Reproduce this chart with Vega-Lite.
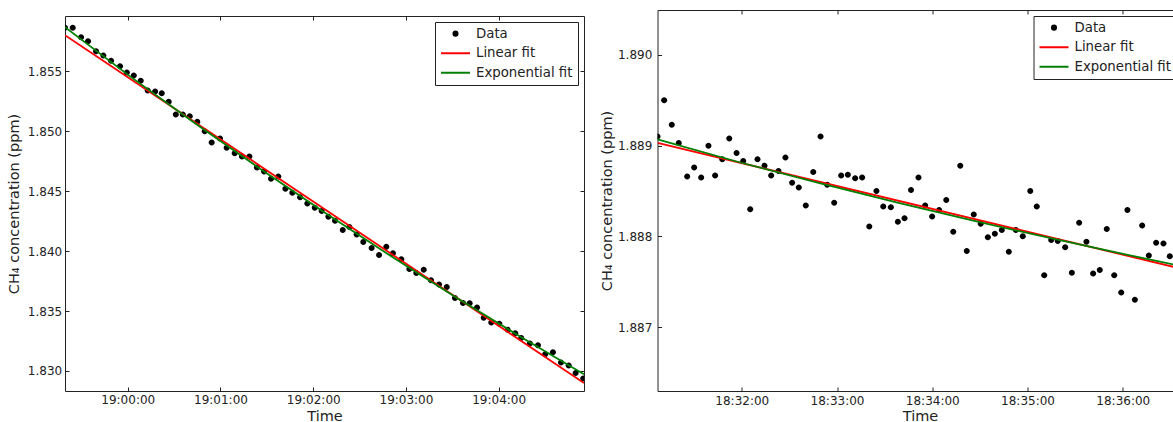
{
  "$schema": "https://vega.github.io/schema/vega-lite/v6.json",
  "padding": {"left": 5, "top": 9, "right": 0, "bottom": 0},
  "spacing": 13.5,
  "config": {
    "font": "DejaVu Sans",
    "view": {"stroke": "#222222", "strokeWidth": 1},
    "axis": {
      "domain": false, "grid": false, "tickColor": "#222222", "tickSize": -4, "tickWidth": 1,
      "labelFont": "DejaVu Sans", "labelFontSize": 12, "labelColor": "#222222",
      "titleFont": "DejaVu Sans", "titleFontSize": 14.5, "titleFontWeight": "normal", "titleColor": "#222222"
    },
    "legend": {
      "title": null, "orient": "top-right", "offset": 6, "strokeColor": "#222222", "fillColor": "white", "padding": 5, "cornerRadius": 0,
      "labelFont": "DejaVu Sans", "labelFontSize": 13.3, "labelColor": "#222222", "symbolType": "stroke", "symbolSize": 841, "symbolStrokeWidth": 2,
      "clipHeight": 13.3, "rowPadding": 4.6, "labelOffset": 5
    }
  },
  "datasets": {
    "left_data": [
      {"t": "2020-01-01T18:59:19.400", "v": 1.85865, "series": "Data"},
      {"t": "2020-01-01T18:59:24.400", "v": 1.85865, "series": "Data"},
      {"t": "2020-01-01T18:59:29.800", "v": 1.85786, "series": "Data"},
      {"t": "2020-01-01T18:59:34.300", "v": 1.85753, "series": "Data"},
      {"t": "2020-01-01T18:59:39.500", "v": 1.85669, "series": "Data"},
      {"t": "2020-01-01T18:59:44.200", "v": 1.85633, "series": "Data"},
      {"t": "2020-01-01T18:59:49.200", "v": 1.85589, "series": "Data"},
      {"t": "2020-01-01T18:59:55.000", "v": 1.85544, "series": "Data"},
      {"t": "2020-01-01T18:59:59.400", "v": 1.85492, "series": "Data"},
      {"t": "2020-01-01T19:00:03.900", "v": 1.85467, "series": "Data"},
      {"t": "2020-01-01T19:00:08.400", "v": 1.85422, "series": "Data"},
      {"t": "2020-01-01T19:00:12.900", "v": 1.85342, "series": "Data"},
      {"t": "2020-01-01T19:00:17.700", "v": 1.85333, "series": "Data"},
      {"t": "2020-01-01T19:00:22.000", "v": 1.85319, "series": "Data"},
      {"t": "2020-01-01T19:00:26.500", "v": 1.85247, "series": "Data"},
      {"t": "2020-01-01T19:00:31.100", "v": 1.85141, "series": "Data"},
      {"t": "2020-01-01T19:00:35.600", "v": 1.85141, "series": "Data"},
      {"t": "2020-01-01T19:00:40.100", "v": 1.85127, "series": "Data"},
      {"t": "2020-01-01T19:00:45.000", "v": 1.85080, "series": "Data"},
      {"t": "2020-01-01T19:00:49.800", "v": 1.85002, "series": "Data"},
      {"t": "2020-01-01T19:00:54.300", "v": 1.84908, "series": "Data"},
      {"t": "2020-01-01T19:00:59.700", "v": 1.84941, "series": "Data"},
      {"t": "2020-01-01T19:01:04.000", "v": 1.84864, "series": "Data"},
      {"t": "2020-01-01T19:01:09.200", "v": 1.84818, "series": "Data"},
      {"t": "2020-01-01T19:01:13.900", "v": 1.84791, "series": "Data"},
      {"t": "2020-01-01T19:01:18.700", "v": 1.84791, "series": "Data"},
      {"t": "2020-01-01T19:01:23.600", "v": 1.84699, "series": "Data"},
      {"t": "2020-01-01T19:01:28.200", "v": 1.84666, "series": "Data"},
      {"t": "2020-01-01T19:01:32.700", "v": 1.84605, "series": "Data"},
      {"t": "2020-01-01T19:01:37.400", "v": 1.84624, "series": "Data"},
      {"t": "2020-01-01T19:01:42.000", "v": 1.84522, "series": "Data"},
      {"t": "2020-01-01T19:01:46.500", "v": 1.84488, "series": "Data"},
      {"t": "2020-01-01T19:01:51.500", "v": 1.84451, "series": "Data"},
      {"t": "2020-01-01T19:01:56.200", "v": 1.84399, "series": "Data"},
      {"t": "2020-01-01T19:02:01.000", "v": 1.84363, "series": "Data"},
      {"t": "2020-01-01T19:02:05.500", "v": 1.84335, "series": "Data"},
      {"t": "2020-01-01T19:02:09.800", "v": 1.84288, "series": "Data"},
      {"t": "2020-01-01T19:02:14.100", "v": 1.84255, "series": "Data"},
      {"t": "2020-01-01T19:02:19.100", "v": 1.84176, "series": "Data"},
      {"t": "2020-01-01T19:02:23.400", "v": 1.84201, "series": "Data"},
      {"t": "2020-01-01T19:02:28.100", "v": 1.84140, "series": "Data"},
      {"t": "2020-01-01T19:02:32.400", "v": 1.84076, "series": "Data"},
      {"t": "2020-01-01T19:02:37.800", "v": 1.84026, "series": "Data"},
      {"t": "2020-01-01T19:02:42.600", "v": 1.83968, "series": "Data"},
      {"t": "2020-01-01T19:02:47.300", "v": 1.84038, "series": "Data"},
      {"t": "2020-01-01T19:02:51.600", "v": 1.83982, "series": "Data"},
      {"t": "2020-01-01T19:02:57.000", "v": 1.83932, "series": "Data"},
      {"t": "2020-01-01T19:03:02.200", "v": 1.83851, "series": "Data"},
      {"t": "2020-01-01T19:03:06.700", "v": 1.83818, "series": "Data"},
      {"t": "2020-01-01T19:03:11.500", "v": 1.83846, "series": "Data"},
      {"t": "2020-01-01T19:03:16.200", "v": 1.83757, "series": "Data"},
      {"t": "2020-01-01T19:03:21.400", "v": 1.83721, "series": "Data"},
      {"t": "2020-01-01T19:03:26.400", "v": 1.83701, "series": "Data"},
      {"t": "2020-01-01T19:03:31.700", "v": 1.83609, "series": "Data"},
      {"t": "2020-01-01T19:03:36.900", "v": 1.83567, "series": "Data"},
      {"t": "2020-01-01T19:03:41.200", "v": 1.83565, "series": "Data"},
      {"t": "2020-01-01T19:03:46.000", "v": 1.83529, "series": "Data"},
      {"t": "2020-01-01T19:03:50.300", "v": 1.83445, "series": "Data"},
      {"t": "2020-01-01T19:03:55.200", "v": 1.83404, "series": "Data"},
      {"t": "2020-01-01T19:04:00.400", "v": 1.83395, "series": "Data"},
      {"t": "2020-01-01T19:04:05.800", "v": 1.83345, "series": "Data"},
      {"t": "2020-01-01T19:04:10.700", "v": 1.83314, "series": "Data"},
      {"t": "2020-01-01T19:04:14.600", "v": 1.83275, "series": "Data"},
      {"t": "2020-01-01T19:04:20.200", "v": 1.83229, "series": "Data"},
      {"t": "2020-01-01T19:04:25.400", "v": 1.83214, "series": "Data"},
      {"t": "2020-01-01T19:04:30.100", "v": 1.83139, "series": "Data"},
      {"t": "2020-01-01T19:04:35.100", "v": 1.83156, "series": "Data"},
      {"t": "2020-01-01T19:04:40.300", "v": 1.83070, "series": "Data"},
      {"t": "2020-01-01T19:04:45.300", "v": 1.83045, "series": "Data"},
      {"t": "2020-01-01T19:04:49.800", "v": 1.82983, "series": "Data"},
      {"t": "2020-01-01T19:04:54.700", "v": 1.82937, "series": "Data"}
    ],
    "left_fit": [
      {"t": "2020-01-01T18:59:19.400", "v": 1.85803, "series": "Linear fit"},
      {"t": "2020-01-01T19:04:55.200", "v": 1.82900, "series": "Linear fit"},
      {"t": "2020-01-01T18:59:19.400", "v": 1.85870, "series": "Exponential fit"},
      {"t": "2020-01-01T19:00:01.500", "v": 1.85459, "series": "Exponential fit"},
      {"t": "2020-01-01T19:00:43.500", "v": 1.85067, "series": "Exponential fit"},
      {"t": "2020-01-01T19:01:25.600", "v": 1.84688, "series": "Exponential fit"},
      {"t": "2020-01-01T19:02:07.600", "v": 1.84320, "series": "Exponential fit"},
      {"t": "2020-01-01T19:02:49.700", "v": 1.83964, "series": "Exponential fit"},
      {"t": "2020-01-01T19:03:31.700", "v": 1.83620, "series": "Exponential fit"},
      {"t": "2020-01-01T19:04:13.800", "v": 1.83288, "series": "Exponential fit"},
      {"t": "2020-01-01T19:04:55.200", "v": 1.82972, "series": "Exponential fit"}
    ],
    "right_data": [
      {"t": "2020-01-01T18:31:06.900", "v": 1.88910, "series": "Data"},
      {"t": "2020-01-01T18:31:11.100", "v": 1.88950, "series": "Data"},
      {"t": "2020-01-01T18:31:15.900", "v": 1.88923, "series": "Data"},
      {"t": "2020-01-01T18:31:20.300", "v": 1.88903, "series": "Data"},
      {"t": "2020-01-01T18:31:25.600", "v": 1.88866, "series": "Data"},
      {"t": "2020-01-01T18:31:30.000", "v": 1.88876, "series": "Data"},
      {"t": "2020-01-01T18:31:34.400", "v": 1.88865, "series": "Data"},
      {"t": "2020-01-01T18:31:39.000", "v": 1.88900, "series": "Data"},
      {"t": "2020-01-01T18:31:43.200", "v": 1.88867, "series": "Data"},
      {"t": "2020-01-01T18:31:47.700", "v": 1.88885, "series": "Data"},
      {"t": "2020-01-01T18:31:52.100", "v": 1.88908, "series": "Data"},
      {"t": "2020-01-01T18:31:56.700", "v": 1.88892, "series": "Data"},
      {"t": "2020-01-01T18:32:00.900", "v": 1.88883, "series": "Data"},
      {"t": "2020-01-01T18:32:05.300", "v": 1.88830, "series": "Data"},
      {"t": "2020-01-01T18:32:09.900", "v": 1.88885, "series": "Data"},
      {"t": "2020-01-01T18:32:14.300", "v": 1.88878, "series": "Data"},
      {"t": "2020-01-01T18:32:18.500", "v": 1.88867, "series": "Data"},
      {"t": "2020-01-01T18:32:23.100", "v": 1.88872, "series": "Data"},
      {"t": "2020-01-01T18:32:27.500", "v": 1.88887, "series": "Data"},
      {"t": "2020-01-01T18:32:31.700", "v": 1.88859, "series": "Data"},
      {"t": "2020-01-01T18:32:35.900", "v": 1.88854, "series": "Data"},
      {"t": "2020-01-01T18:32:40.300", "v": 1.88834, "series": "Data"},
      {"t": "2020-01-01T18:32:45.000", "v": 1.88871, "series": "Data"},
      {"t": "2020-01-01T18:32:49.600", "v": 1.88910, "series": "Data"},
      {"t": "2020-01-01T18:32:53.800", "v": 1.88857, "series": "Data"},
      {"t": "2020-01-01T18:32:58.200", "v": 1.88837, "series": "Data"},
      {"t": "2020-01-01T18:33:02.600", "v": 1.88867, "series": "Data"},
      {"t": "2020-01-01T18:33:06.800", "v": 1.88868, "series": "Data"},
      {"t": "2020-01-01T18:33:11.400", "v": 1.88864, "series": "Data"},
      {"t": "2020-01-01T18:33:15.800", "v": 1.88865, "series": "Data"},
      {"t": "2020-01-01T18:33:20.300", "v": 1.88811, "series": "Data"},
      {"t": "2020-01-01T18:33:24.800", "v": 1.88850, "series": "Data"},
      {"t": "2020-01-01T18:33:29.100", "v": 1.88833, "series": "Data"},
      {"t": "2020-01-01T18:33:33.900", "v": 1.88832, "series": "Data"},
      {"t": "2020-01-01T18:33:38.300", "v": 1.88816, "series": "Data"},
      {"t": "2020-01-01T18:33:42.500", "v": 1.88820, "series": "Data"},
      {"t": "2020-01-01T18:33:46.600", "v": 1.88851, "series": "Data"},
      {"t": "2020-01-01T18:33:51.300", "v": 1.88865, "series": "Data"},
      {"t": "2020-01-01T18:33:55.500", "v": 1.88834, "series": "Data"},
      {"t": "2020-01-01T18:33:59.900", "v": 1.88822, "series": "Data"},
      {"t": "2020-01-01T18:34:04.300", "v": 1.88829, "series": "Data"},
      {"t": "2020-01-01T18:34:08.800", "v": 1.88840, "series": "Data"},
      {"t": "2020-01-01T18:34:13.200", "v": 1.88805, "series": "Data"},
      {"t": "2020-01-01T18:34:17.600", "v": 1.88878, "series": "Data"},
      {"t": "2020-01-01T18:34:21.700", "v": 1.88784, "series": "Data"},
      {"t": "2020-01-01T18:34:26.100", "v": 1.88824, "series": "Data"},
      {"t": "2020-01-01T18:34:30.500", "v": 1.88814, "series": "Data"},
      {"t": "2020-01-01T18:34:35.000", "v": 1.88799, "series": "Data"},
      {"t": "2020-01-01T18:34:39.400", "v": 1.88803, "series": "Data"},
      {"t": "2020-01-01T18:34:43.800", "v": 1.88807, "series": "Data"},
      {"t": "2020-01-01T18:34:48.200", "v": 1.88783, "series": "Data"},
      {"t": "2020-01-01T18:34:52.600", "v": 1.88807, "series": "Data"},
      {"t": "2020-01-01T18:34:57.000", "v": 1.88800, "series": "Data"},
      {"t": "2020-01-01T18:35:01.700", "v": 1.88850, "series": "Data"},
      {"t": "2020-01-01T18:35:05.800", "v": 1.88833, "series": "Data"},
      {"t": "2020-01-01T18:35:10.500", "v": 1.88757, "series": "Data"},
      {"t": "2020-01-01T18:35:14.900", "v": 1.88796, "series": "Data"},
      {"t": "2020-01-01T18:35:19.000", "v": 1.88795, "series": "Data"},
      {"t": "2020-01-01T18:35:23.700", "v": 1.88788, "series": "Data"},
      {"t": "2020-01-01T18:35:27.900", "v": 1.88760, "series": "Data"},
      {"t": "2020-01-01T18:35:32.500", "v": 1.88815, "series": "Data"},
      {"t": "2020-01-01T18:35:37.100", "v": 1.88794, "series": "Data"},
      {"t": "2020-01-01T18:35:41.300", "v": 1.88759, "series": "Data"},
      {"t": "2020-01-01T18:35:45.500", "v": 1.88763, "series": "Data"},
      {"t": "2020-01-01T18:35:49.900", "v": 1.88808, "series": "Data"},
      {"t": "2020-01-01T18:35:54.600", "v": 1.88757, "series": "Data"},
      {"t": "2020-01-01T18:35:59.000", "v": 1.88738, "series": "Data"},
      {"t": "2020-01-01T18:36:02.900", "v": 1.88829, "series": "Data"},
      {"t": "2020-01-01T18:36:07.600", "v": 1.88730, "series": "Data"},
      {"t": "2020-01-01T18:36:12.200", "v": 1.88812, "series": "Data"},
      {"t": "2020-01-01T18:36:16.400", "v": 1.88779, "series": "Data"},
      {"t": "2020-01-01T18:36:21.000", "v": 1.88793, "series": "Data"},
      {"t": "2020-01-01T18:36:25.600", "v": 1.88792, "series": "Data"},
      {"t": "2020-01-01T18:36:29.600", "v": 1.88778, "series": "Data"}
    ],
    "right_fit": [
      {"t": "2020-01-01T18:31:06.900", "v": 1.88903, "series": "Linear fit"},
      {"t": "2020-01-01T18:36:37.600", "v": 1.88764, "series": "Linear fit"},
      {"t": "2020-01-01T18:31:06.900", "v": 1.88907, "series": "Exponential fit"},
      {"t": "2020-01-01T18:31:57.900", "v": 1.88882, "series": "Exponential fit"},
      {"t": "2020-01-01T18:32:48.300", "v": 1.88859, "series": "Exponential fit"},
      {"t": "2020-01-01T18:33:38.700", "v": 1.88837, "series": "Exponential fit"},
      {"t": "2020-01-01T18:34:29.100", "v": 1.88816, "series": "Exponential fit"},
      {"t": "2020-01-01T18:35:19.500", "v": 1.88796, "series": "Exponential fit"},
      {"t": "2020-01-01T18:36:09.900", "v": 1.88777, "series": "Exponential fit"},
      {"t": "2020-01-01T18:36:37.600", "v": 1.88767, "series": "Exponential fit"}
    ]
  },
  "resolve": {"scale": {"x": "independent", "y": "independent", "color": "independent", "shape": "independent"}, "legend": {"color": "independent", "shape": "independent"}},
  "hconcat": [
    {
      "spacing": 0,
      "resolve": {"scale": {"x": "independent", "y": "independent", "color": "independent", "shape": "independent"}, "legend": {"color": "independent", "shape": "independent"}},
      "vconcat": [
        {
          "width": 519,
          "height": 4.5,
          "view": {"stroke": null},
          "data": {"values": []},
          "mark": {"type": "point", "opacity": 0},
          "encoding": {}
        },
        {
          "width": 519,
          "height": 375,
          "resolve": {"axis": {"x": "independent", "y": "independent"}},
          "layer": [
            {
              "data": {"name": "left_data"},
              "mark": {"type": "point", "filled": true, "size": 1837, "opacity": 1, "clip": true},
              "encoding": {
                "x": {"field": "t", "type": "temporal",
                  "scale": {"domain": [{"year": 2020, "month": 1, "date": 1, "hours": 18, "minutes": 59, "seconds": 19, "milliseconds": 400}, {"year": 2020, "month": 1, "date": 1, "hours": 19, "minutes": 4, "seconds": 55, "milliseconds": 200}], "nice": false},
                  "axis": {"orient": "bottom", "title": "Time", "format": "%H:%M:%S", "labelPadding": 7.5, "titlePadding": 3.5,
                    "values": [{"year": 2020, "month": 1, "date": 1, "hours": 19, "minutes": 0}, {"year": 2020, "month": 1, "date": 1, "hours": 19, "minutes": 1}, {"year": 2020, "month": 1, "date": 1, "hours": 19, "minutes": 2}, {"year": 2020, "month": 1, "date": 1, "hours": 19, "minutes": 3}, {"year": 2020, "month": 1, "date": 1, "hours": 19, "minutes": 4}]}},
                "y": {"field": "v", "type": "quantitative",
                  "scale": {"domain": [1.82833, 1.85963], "nice": false, "zero": false},
                  "axis": {"orient": "left", "title": "CH₄ concentration (ppm)", "format": ".3f", "labelPadding": 7.3, "titlePadding": 6,
                    "values": [1.830, 1.835, 1.840, 1.845, 1.850, 1.855]}},
                "color": {"field": "series", "type": "nominal",
                  "scale": {"domain": ["Data", "Linear fit", "Exponential fit"], "range": ["#000000", "#ff0000", "#008000"]}},
                "shape": {"field": "series", "type": "nominal",
                  "scale": {"domain": ["Data", "Linear fit", "Exponential fit"], "range": ["M0.14,0A0.14,0.14,0,1,1,-0.14,0A0.14,0.14,0,1,1,0.14,0Z", "stroke", "stroke"]}}
              }
            },
            {
              "data": {"name": "left_fit"},
              "mark": {"type": "line", "strokeWidth": 1.8, "clip": true},
              "encoding": {
                "x": {"field": "t", "type": "temporal",
                  "axis": {"orient": "top", "labels": false, "title": null,
                    "values": [{"year": 2020, "month": 1, "date": 1, "hours": 19, "minutes": 0}, {"year": 2020, "month": 1, "date": 1, "hours": 19, "minutes": 1}, {"year": 2020, "month": 1, "date": 1, "hours": 19, "minutes": 2}, {"year": 2020, "month": 1, "date": 1, "hours": 19, "minutes": 3}, {"year": 2020, "month": 1, "date": 1, "hours": 19, "minutes": 4}]}},
                "y": {"field": "v", "type": "quantitative",
                  "axis": {"orient": "right", "labels": false, "title": null, "values": [1.830, 1.835, 1.840, 1.845, 1.850, 1.855]}},
                "color": {"field": "series", "type": "nominal"}
              }
            }
          ]
        }
      ]
    },
    {
      "width": 525,
      "height": 381,
      "resolve": {"axis": {"x": "independent", "y": "independent"}},
      "layer": [
        {
          "data": {"name": "right_data"},
          "mark": {"type": "point", "filled": true, "size": 1837, "opacity": 1, "clip": true},
          "encoding": {
            "x": {"field": "t", "type": "temporal",
              "scale": {"domain": [{"year": 2020, "month": 1, "date": 1, "hours": 18, "minutes": 31, "seconds": 6, "milliseconds": 900}, {"year": 2020, "month": 1, "date": 1, "hours": 18, "minutes": 36, "seconds": 37, "milliseconds": 600}], "nice": false},
              "axis": {"orient": "bottom", "title": "Time", "format": "%H:%M:%S", "labelPadding": 8, "titlePadding": 3,
                "values": [{"year": 2020, "month": 1, "date": 1, "hours": 18, "minutes": 32}, {"year": 2020, "month": 1, "date": 1, "hours": 18, "minutes": 33}, {"year": 2020, "month": 1, "date": 1, "hours": 18, "minutes": 34}, {"year": 2020, "month": 1, "date": 1, "hours": 18, "minutes": 35}, {"year": 2020, "month": 1, "date": 1, "hours": 18, "minutes": 36}]}},
            "y": {"field": "v", "type": "quantitative",
              "scale": {"domain": [1.886295, 1.890496], "nice": false, "zero": false},
              "axis": {"orient": "left", "title": "CH₄ concentration (ppm)", "format": ".3f", "labelPadding": 9.7, "titlePadding": 3,
                "values": [1.887, 1.888, 1.889, 1.890]}},
            "color": {"field": "series", "type": "nominal",
              "scale": {"domain": ["Data", "Linear fit", "Exponential fit"], "range": ["#000000", "#ff0000", "#008000"]}},
            "shape": {"field": "series", "type": "nominal",
              "scale": {"domain": ["Data", "Linear fit", "Exponential fit"], "range": ["M0.14,0A0.14,0.14,0,1,1,-0.14,0A0.14,0.14,0,1,1,0.14,0Z", "stroke", "stroke"]}}
          }
        },
        {
          "data": {"name": "right_fit"},
          "mark": {"type": "line", "strokeWidth": 1.8, "clip": true},
          "encoding": {
            "x": {"field": "t", "type": "temporal",
              "axis": {"orient": "top", "labels": false, "title": null,
                "values": [{"year": 2020, "month": 1, "date": 1, "hours": 18, "minutes": 32}, {"year": 2020, "month": 1, "date": 1, "hours": 18, "minutes": 33}, {"year": 2020, "month": 1, "date": 1, "hours": 18, "minutes": 34}, {"year": 2020, "month": 1, "date": 1, "hours": 18, "minutes": 35}, {"year": 2020, "month": 1, "date": 1, "hours": 18, "minutes": 36}]}},
            "y": {"field": "v", "type": "quantitative",
              "axis": {"orient": "right", "labels": false, "title": null, "values": [1.887, 1.888, 1.889, 1.890]}},
            "color": {"field": "series", "type": "nominal"}
          }
        }
      ]
    }
  ]
}
